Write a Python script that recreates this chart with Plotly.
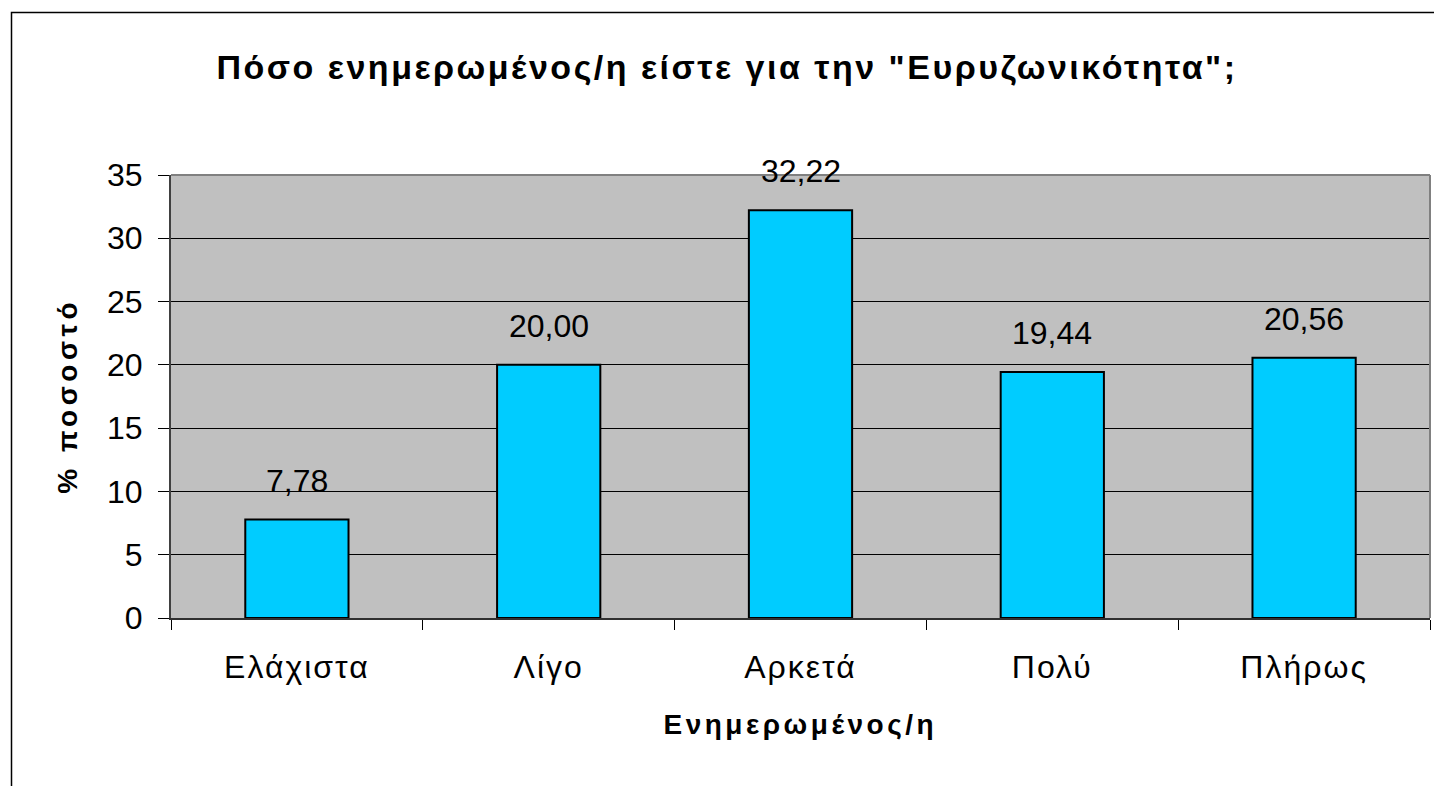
import plotly.graph_objects as go

categories = ["Ελάχιστα", "Λίγο", "Αρκετά", "Πολύ", "Πλήρως"]
values = [7.78, 20.00, 32.22, 19.44, 20.56]
y_ticks = [0, 5, 10, 15, 20, 25, 30, 35]

title_text = 'Πόσο ενημερωμένος/η είστε για την "Ευρυζωνικότητα";'
x_title = "Ενημερωμένος/η"
y_title = "% ποσοστό"

FONT = "Liberation Sans, Arial, sans-serif"
W, H = 1434, 786
L, R, T, B = 171, 4, 175, 168
pw = W - L - R
ph = H - T - B

def px_x(p):
    return (p - L) / pw

def px_y(p):
    return (H - B - p) / ph

fig = go.Figure()
fig.add_trace(go.Bar(
    x=categories, y=values, width=0.41,
    marker=dict(color="#00CCFF", line=dict(color="black", width=2)),
    hoverinfo="x+y",
))

annotations = []
for c, v in zip(categories, values):
    annotations.append(dict(
        x=c, y=v, xref="x", yref="y", text=f"{v:.2f}".replace(".", ","),
        showarrow=False, yanchor="bottom", yshift=19,
        font=dict(family=FONT, size=32, color="black"),
    ))
annotations.append(dict(
    x=0.5, y=px_y(724), xref="paper", yref="paper", text=f"<b>{x_title}</b>",
    showarrow=False, xanchor="center", yanchor="middle",
    font=dict(family=FONT, size=28, color="black"),
))
annotations.append(dict(
    x=px_x(67), y=0.5, xref="paper", yref="paper", text=f"<b>{y_title}</b>",
    showarrow=False, xanchor="center", yanchor="middle", textangle=-90,
    font=dict(family=FONT, size=28, color="black"),
))

shapes = [
    dict(type="rect", xref="paper", yref="paper",
         x0=px_x(11.5), x1=px_x(1460), y0=px_y(820), y1=px_y(12.5),
         line=dict(color="black", width=1.5), layer="above"),
    dict(type="line", xref="paper", yref="paper", x0=0, x1=1, y0=1, y1=1,
         line=dict(color="#808080", width=2), layer="above"),
    dict(type="line", xref="paper", yref="paper", x0=1, x1=1, y0=0, y1=1,
         line=dict(color="#808080", width=2), layer="above"),
]

fig.update_layout(
    width=W, height=H,
    margin=dict(l=L, r=R, t=T, b=B, pad=0),
    paper_bgcolor="white",
    plot_bgcolor="#C0C0C0",
    showlegend=False,
    title=dict(text=f"<b>{title_text}</b>", x=727 / W, xanchor="center",
               y=1 - 67 / H, yanchor="middle", yref="container",
               font=dict(family=FONT, size=34, color="black")),
    annotations=annotations,
    shapes=shapes,
)
fig.update_xaxes(
    type="category", tickson="boundaries", ticks="outside", ticklen=10,
    tickcolor="black", tickwidth=1,
    showline=True, linecolor="#303030", linewidth=2,
    showgrid=False, ticklabelstandoff=20,
    tickfont=dict(family=FONT, size=32, color="black"),
)
fig.update_yaxes(
    range=[0, 35], tickvals=y_ticks, ticks="outside", ticklen=11,
    tickcolor="black", tickwidth=1,
    showline=True, linecolor="#404040", linewidth=2,
    showgrid=True, gridcolor="black", gridwidth=1, zeroline=False,
    ticklabelstandoff=9,
    tickfont=dict(family=FONT, size=32, color="black"),
)

post_js = """
document.body.style.margin = '0';
document.body.style.overflow = 'hidden';
var gd = document.getElementById('{plot_id}');
function spaceGreek() {
  var greek = /[\\u0370-\\u03FF]/;
  gd.querySelectorAll('text').forEach(function (t) {
    var s = t.textContent || '';
    if (!greek.test(s)) return;
    var ls = '2px';
    if (t.classList.contains('gtitle')) ls = '2.5px';
    else if (s.indexOf('ποσοστό') >= 0) ls = '4.5px';
    else if (s.indexOf('Ενημερωμένος') >= 0) ls = '3.5px';
    t.style.letterSpacing = ls;
  });
}
spaceGreek();
if (gd.on) gd.on('plotly_afterplot', spaceGreek);
"""

fig.write_html("out.html", post_script=post_js, config={"displayModeBar": False})
